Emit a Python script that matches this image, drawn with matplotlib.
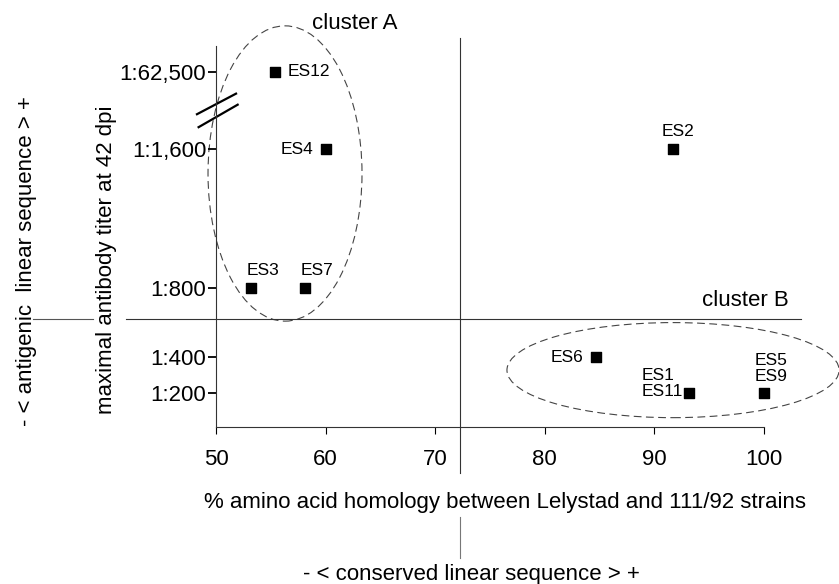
import matplotlib.pyplot as plt
from matplotlib.patches import Ellipse

plt.rcParams['font.family'] = ['Liberation Sans', 'DejaVu Sans']

# Data
names = ['ES12', 'ES4', 'ES3', 'ES7', 'ES2', 'ES6', 'ES1\nES11', 'ES5\nES9']
homology = [55.4, 60.0, 53.2, 58.1, 91.7, 84.7, 93.2, 100.0]
titer = ['1:62,500', '1:1,600', '1:800', '1:800', '1:1,600', '1:400', '1:200', '1:200']

# titer axis is a broken, non-uniform scale in the original
titer_levels = ['1:200', '1:400', '1:800', '1:1,600', '1:62,500']
level_pos = [0.0, 1.0, 2.92, 6.78, 8.92]
x_ticks = [50, 60, 70, 80, 90, 100]

# label placement (offset in points, alignment)
label_style = {
    'ES12': ((9, 0), 'left', 'center'),
    'ES4': ((-9, 0), 'right', 'center'),
    'ES3': ((-3, 7), 'left', 'bottom'),
    'ES7': ((-3, 7), 'left', 'bottom'),
    'ES2': ((-8, 7), 'left', 'bottom'),
    'ES6': ((-9, 0), 'right', 'center'),
    'ES1\nES11': ((-5, 7), 'right', 'center'),
    'ES5\nES9': ((-7, 18), 'left', 'center'),
}

pos = dict(zip(titer_levels, level_pos))
y = [pos[t] for t in titer]

fs = 16

fig = plt.figure(figsize=(8.39, 5.84), dpi=100)
ax = fig.add_axes([0.2574, 0.2688, 0.7185, 0.6524])
ax.set_xlim(50, 105)
ax.set_ylim(-0.94, 9.64)

ax.scatter(homology, y, marker='s', s=50, color='black', zorder=3)

for n, xv, yv in zip(names, homology, y):
    off, ha, va = label_style[n]
    ax.annotate(n, (xv, yv), xytext=off, textcoords='offset points',
                ha=ha, va=va, ma='left', fontsize=12.5, linespacing=1.1)

# cluster ellipses
ax.add_patch(Ellipse((56.3, 6.1), 14.05, 8.2, fill=False, ls=(0, (7, 4)),
                     lw=0.8, color='#444444', clip_on=False))
ax.add_patch(Ellipse((91.7, 0.64), 30.3, 2.64, fill=False, ls=(0, (7, 4)),
                     lw=0.8, color='#444444', clip_on=False))
ax.text(0.2306, 1.059, 'cluster A', transform=ax.transAxes, fontsize=fs,
        ha='center', va='center')
ax.text(0.879, 0.333, 'cluster B', transform=ax.transAxes, fontsize=fs,
        ha='center', va='center')

# quadrant lines
ax.axvline(72.3, -0.121, 1.021, color='#333333', lw=0.8, clip_on=False)
ax.axvline(72.3, -0.344, -0.236, color='#777777', lw=0.8, clip_on=False)
ax.axhline(2.05, -0.149, 0.970, color='#333333', lw=0.8, clip_on=False)
ax.axhline(2.05, -0.3036, -0.204, color='#555555', lw=0.8, clip_on=False)

# axis break marks
ax.plot([-0.0315, 0.0333], [0.821, 0.875], color='black', lw=1.6,
        transform=ax.transAxes, clip_on=False)
ax.plot([-0.0288, 0.0360], [0.787, 0.846], color='black', lw=1.6,
        transform=ax.transAxes, clip_on=False)

ax.spines['top'].set_visible(False)
ax.spines['right'].set_visible(False)
ax.spines['bottom'].set_bounds(50, 100)
for s in ['left', 'bottom']:
    ax.spines[s].set_linewidth(0.8)
    ax.spines[s].set_color('#333333')

ax.set_xticks(x_ticks)
ax.set_yticks(level_pos)
ax.set_yticklabels(titer_levels)
ax.tick_params(axis='y', length=6, width=1.3, labelsize=fs, pad=1)
ax.tick_params(axis='x', length=5, width=0.8, labelsize=fs, pad=11)

ax.set_ylabel('maximal antibody titer at 42 dpi', fontsize=fs)
ax.yaxis.set_label_coords(-0.164, 0.44)
ax.set_xlabel('% amino acid homology between Lelystad and 111/92 strains', fontsize=fs)
ax.xaxis.set_label_coords(0.479, -0.171)

ax.text(-0.315, 0.436, '- < antigenic  linear sequence > +', transform=ax.transAxes,
        rotation=90, fontsize=fs, ha='center', va='center')
ax.text(0.423, -0.386, '- < conserved linear sequence > +', transform=ax.transAxes,
        fontsize=fs, ha='center', va='center')

fig.savefig('out.png', dpi=100)
